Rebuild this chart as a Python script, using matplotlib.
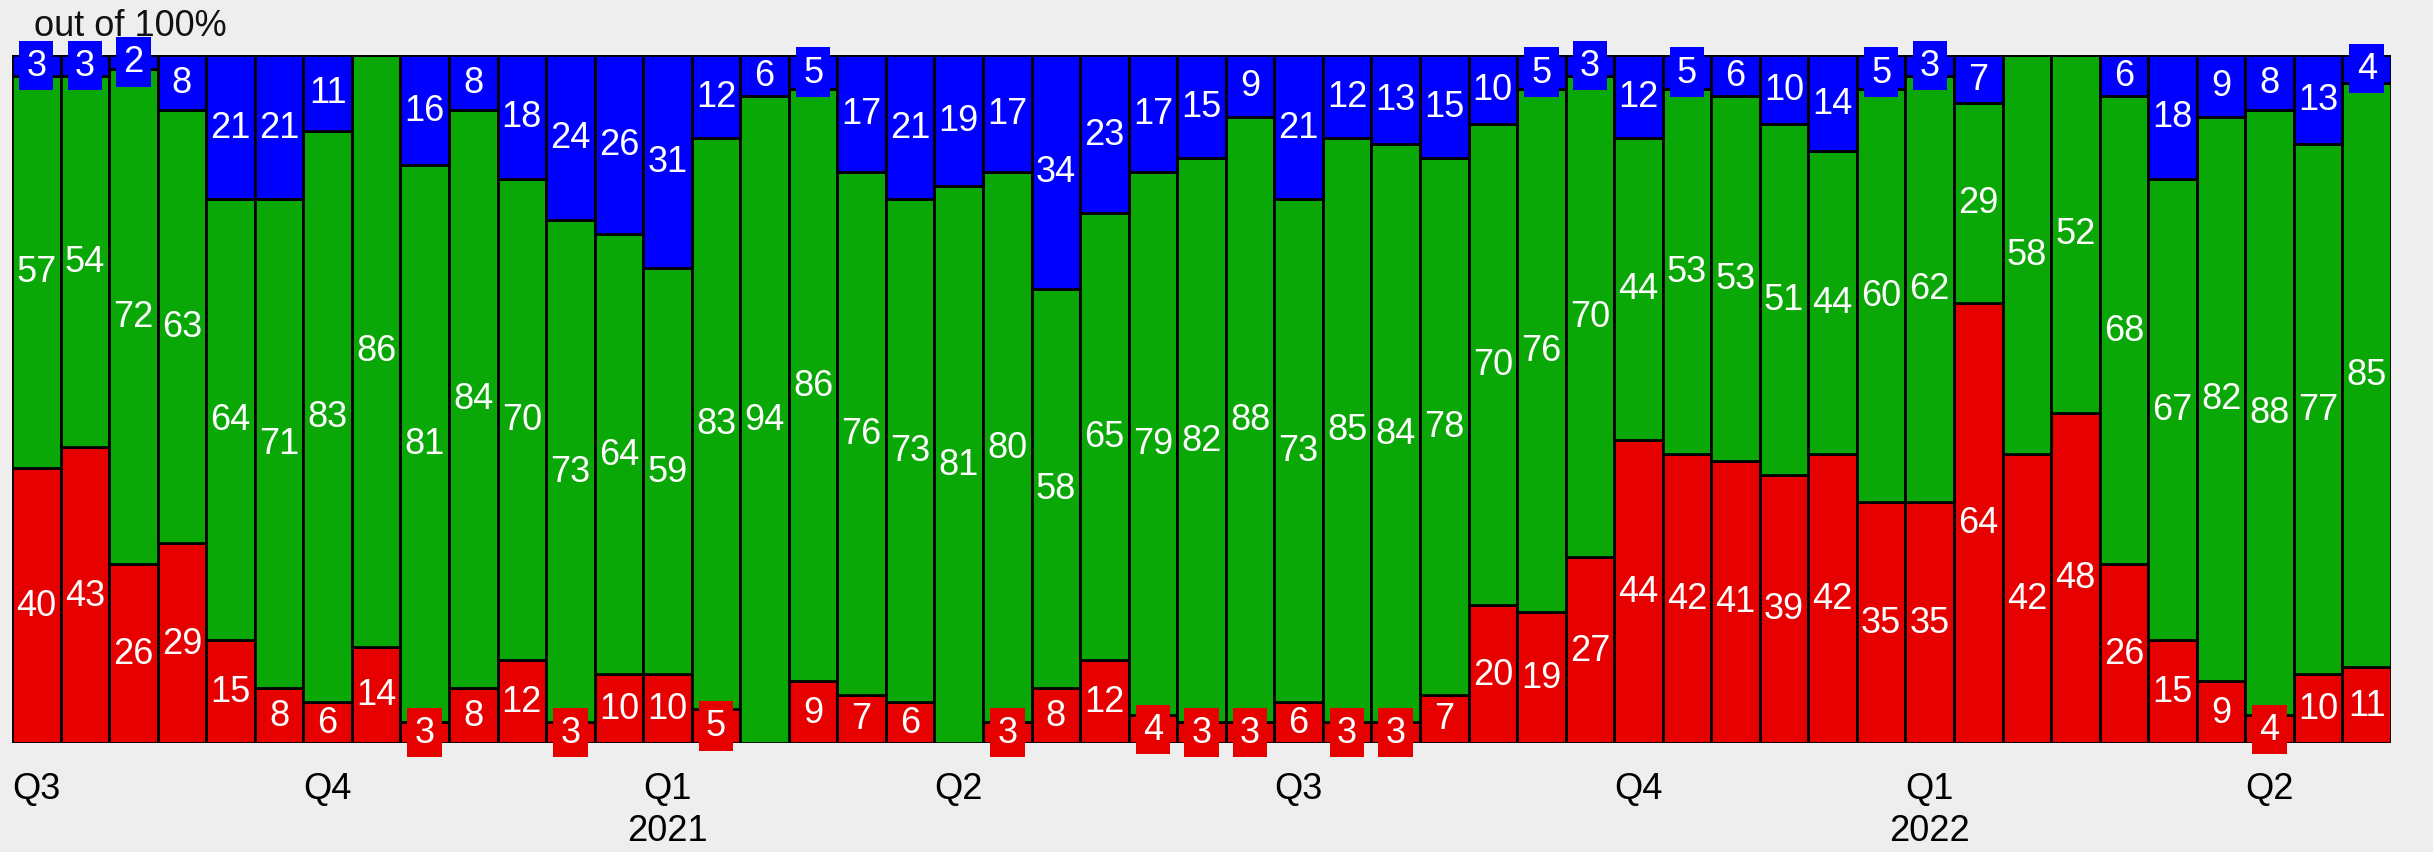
import matplotlib.pyplot as plt
import numpy as np

plt.rcParams['font.family'] = ['Liberation Sans', 'DejaVu Sans']

# weekly shares, out of 100
red = [40, 43, 26, 29, 15, 8, 6, 14, 3, 8, 12, 3, 10, 10, 5, 0, 9, 7, 6, 0,
       3, 8, 12, 4, 3, 3, 6, 3, 3, 7, 20, 19, 27, 44, 42, 41, 39, 42, 35, 35,
       64, 42, 48, 26, 15, 9, 4, 10, 11]
green = [57, 54, 72, 63, 64, 71, 83, 86, 81, 84, 70, 73, 64, 59, 83, 94, 86, 76, 73, 81,
         80, 58, 65, 79, 82, 88, 73, 85, 84, 78, 70, 76, 70, 44, 53, 53, 51, 44, 60, 62,
         29, 58, 52, 68, 67, 82, 88, 77, 85]
blue = [3, 3, 2, 8, 21, 21, 11, 0, 16, 8, 18, 24, 26, 31, 12, 6, 5, 17, 21, 19,
        17, 34, 23, 17, 15, 9, 21, 12, 13, 15, 10, 5, 3, 12, 5, 6, 10, 14, 5, 3,
        7, 0, 0, 6, 18, 9, 8, 13, 4]

tick_pos = [0, 6, 13, 19, 26, 33, 39, 46]
tick_labels = ["Q3", "Q4", "Q1\n2021", "Q2", "Q3", "Q4", "Q1\n2022", "Q2"]

c_red, c_green, c_blue = "#e60000", "#0aa806", "#0000ff"

fig = plt.figure(figsize=(24.33, 8.53), dpi=100, facecolor="#eeeeee")
ax = fig.add_axes([12 / 2433, 109 / 853, 2379 / 2433, 688 / 853])
ax.set_facecolor("#eeeeee")

x = np.arange(len(red))
r = np.array(red)
g = np.array(green)
b = np.array(blue)

for vals, base, col in [(r, 0, c_red), (g, r, c_green), (b, r + g, c_blue)]:
    ax.bar(x, vals, bottom=base, width=1.0, color=col, edgecolor="black", linewidth=2)
    for xi, v, bo in zip(x, vals, np.zeros(len(x)) + base):
        if v == 0:
            continue
        kw = {}
        if v <= 5:
            kw["bbox"] = dict(boxstyle="square,pad=0.2", facecolor=col, edgecolor="none")
        ax.text(xi, bo + v / 2, str(v), ha="center", va="center", color="white",
                fontsize=26, clip_on=False, **kw)

ax.set_xlim(-0.5, len(red) - 0.5)
ax.set_ylim(0, 100)
ax.set_yticks([])
ax.set_xticks(tick_pos)
ax.set_xticklabels(tick_labels, fontsize=26, linespacing=1.25)
ax.tick_params(axis="x", length=0, pad=20)
for s in ax.spines.values():
    s.set_visible(False)

fig.text(34 / 2433, 1 - 27 / 853, "out of 100%", fontsize=26, va="center", ha="left", color="#111111")

fig.savefig("out.png", dpi=100, facecolor="#eeeeee")
